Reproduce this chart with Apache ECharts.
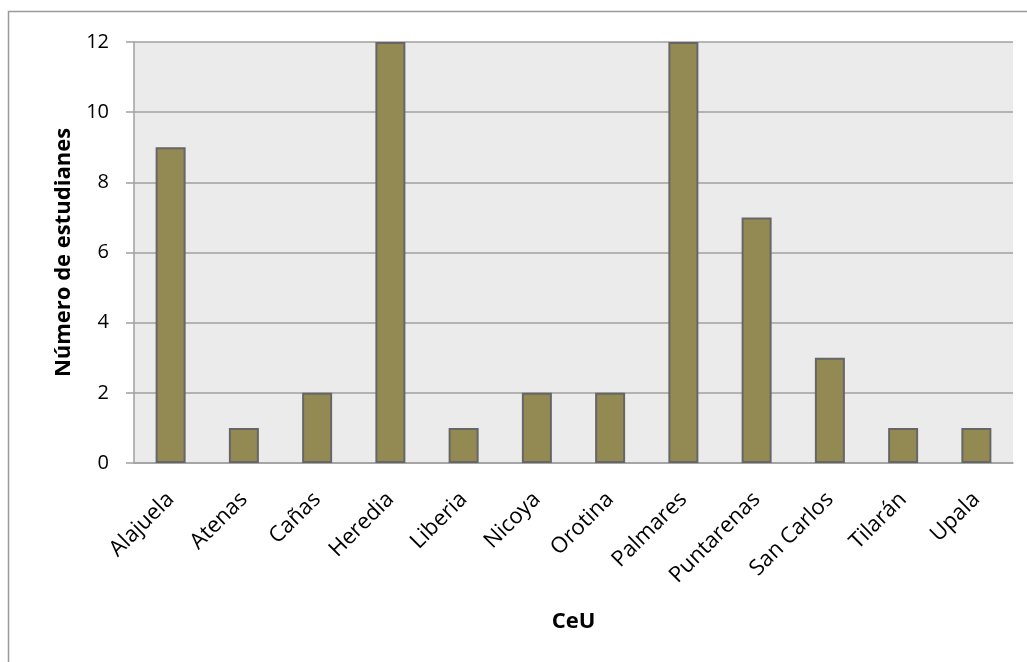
<!DOCTYPE html>
<html><head><meta charset="utf-8">
<script src="https://cdn.jsdelivr.net/npm/echarts@6/dist/echarts.min.js"></script>
<style>html,body{margin:0;padding:0;background:#fff}#c{width:1027px;height:662px}</style>
</head><body><div id="c"></div>
<script>
const categories = ['Alajuela','Atenas','Cañas','Heredia','Liberia','Nicoya','Orotina','Palmares','Puntarenas','San Carlos','Tilarán','Upala'];
const values = [9,1,2,12,1,2,2,12,7,3,1,1];
const yTicks = [0,2,4,6,8,10,12];

const chart = echarts.init(document.getElementById('c'));
const font = '"Open Sans", "Liberation Sans", sans-serif';
chart.setOption({
  animation:false,
  graphic:[{type:'rect',shape:{x:8.5,y:11.5,width:1040,height:700},style:{fill:null,stroke:'#9a9a9a',lineWidth:1.5},z:-10}],
  grid:{left:134,top:42,right:14,bottom:199,show:true,backgroundColor:'#EBEBEB',borderWidth:0},
  xAxis:{type:'category',data:categories,
    name:'CeU',nameLocation:'middle',nameGap:148,
    nameTextStyle:{fontFamily:font,fontSize:22,fontWeight:'bold',color:'#000'},
    axisLine:{lineStyle:{color:'#a0a0a0',width:1.5}},
    axisTick:{show:false},
    axisLabel:{rotate:45,fontFamily:font,fontSize:22,color:'#000',margin:33,interval:0}
  },
  yAxis:{type:'value',min:0,max:12,interval:2,
    name:'Número de estudianes',nameLocation:'middle',nameGap:58,
    nameTextStyle:{fontFamily:font,fontSize:22,fontWeight:'bold',color:'#000'},
    axisLine:{show:true,lineStyle:{color:'#a0a0a0',width:1.5}},
    axisTick:{show:true,length:8,lineStyle:{color:'#a0a0a0',width:1.5}},
    splitLine:{lineStyle:{color:'#a0a0a0',width:1.5}},
    axisLabel:{fontFamily:font,fontSize:20,color:'#000',margin:25,
      formatter:v=>yTicks.includes(v)?String(v):''}
  },
  series:[{type:'bar',data:values,barWidth:30,
    itemStyle:{color:'#938953',borderColor:'#666666',borderWidth:2}}]
});
</script></body></html>
